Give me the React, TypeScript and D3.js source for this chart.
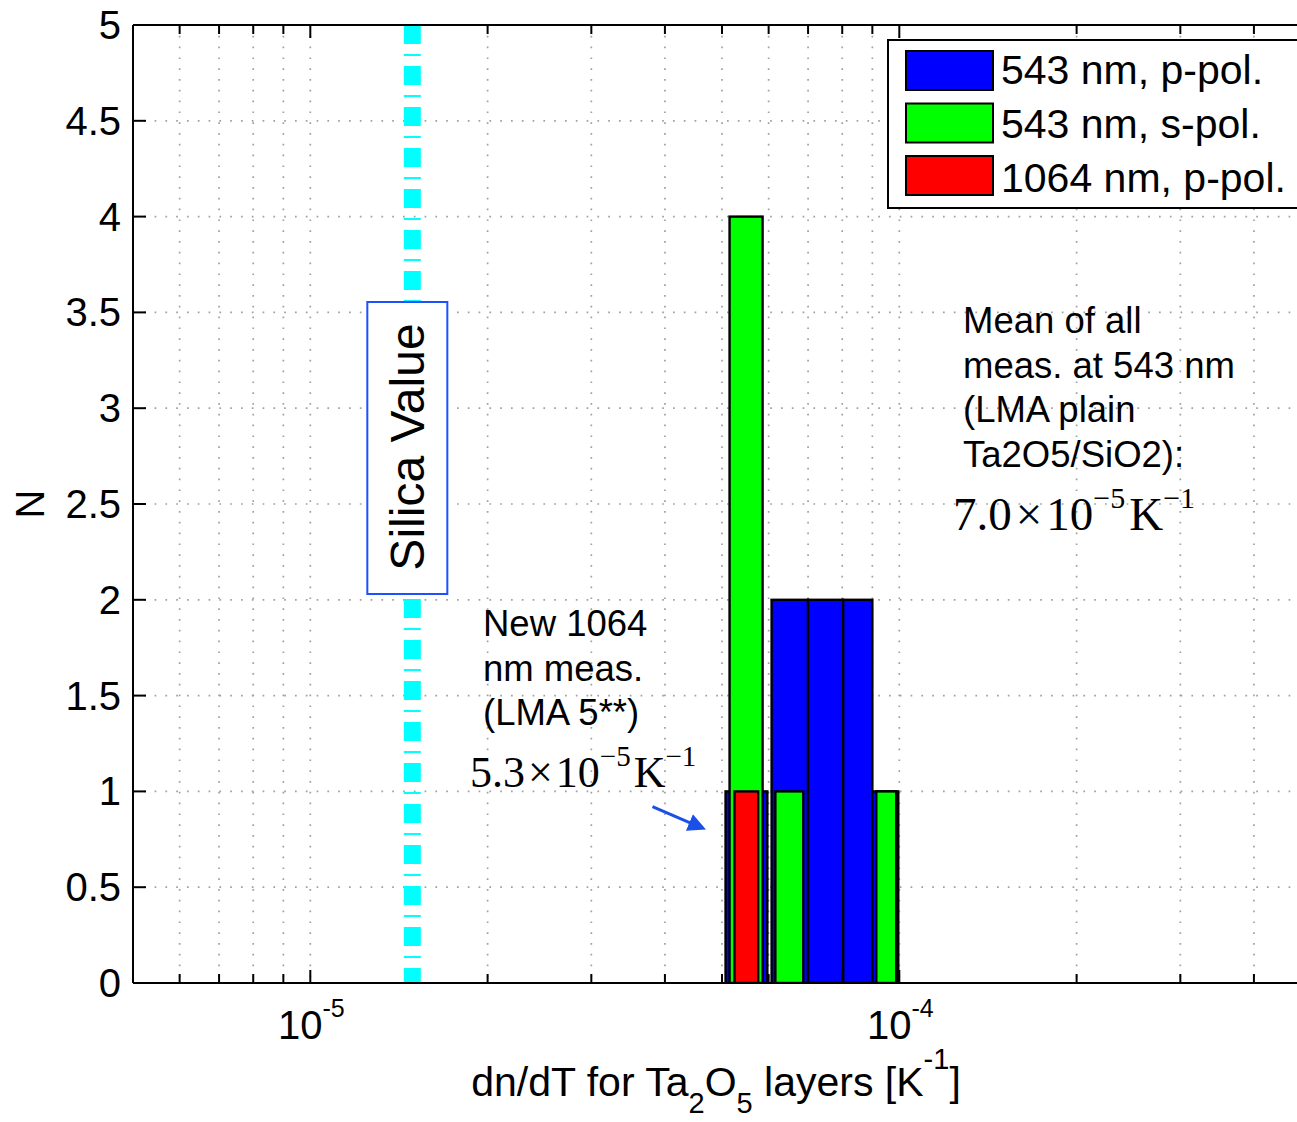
import React from "react";
import * as d3 from "d3";

// ---- data ----
const bluePLeft = [5.07e-5, 6.07e-5, 7.0e-5, 8.03e-5, 9.0e-5];
const bluePRight = [5.97e-5, 7.0e-5, 8.03e-5, 9.0e-5, 9.96e-5];
const bluePCounts = [1, 2, 2, 2, 1];

const greenSLeft = [5.15e-5, 6.16e-5, 9.14e-5];
const greenSRight = [5.86e-5, 6.87e-5, 9.88e-5];
const greenSCounts = [4, 1, 1];

const red1064Left = [5.25e-5];
const red1064Right = [5.76e-5];
const red1064Counts = [1];

const seriesNames = ["543 nm, p-pol.", "543 nm, s-pol.", "1064 nm, p-pol."];
const seriesColors = ["#0000ff", "#00ff00", "#ff0000"];

const silicaValue = 1.49e-5;
const xDomain = [5e-6, 5e-4];
const yDomain = [0, 5];
const yTicks = [0, 0.5, 1, 1.5, 2, 2.5, 3, 3.5, 4, 4.5, 5];
const xMajorTicks = [1e-5, 1e-4];
const xMajorExponents = ["-5", "-4"];

const arrowStart = [3.81e-5, 0.92];
const arrowEnd = [4.62e-5, 0.81];

const meanLines = ["Mean of all", "meas. at 543 nm", "(LMA plain", "Ta2O5/SiO2):"];
const newLines = ["New 1064", "nm meas.", "(LMA 5**)"];

const SANS = "'Liberation Sans', Arial, Helvetica, sans-serif";
const SERIF = "'Liberation Serif', 'Times New Roman', Times, serif";

export default function App() {
  const W = 1297, H = 1122;
  const left = 133, right = 1311, top = 25, bottom = 983;
  const x = d3.scaleLog().domain(xDomain).range([left, right]);
  const y = d3.scaleLinear().domain(yDomain).range([bottom, top]);

  const allTicks = x.ticks().filter((t) => t > xDomain[0] * 1.0001 && t < xDomain[1] * 0.9999);
  const isMajor = (t: number) => Math.abs(Math.log10(t) - Math.round(Math.log10(t))) < 1e-6;

  const series = [
    { l: bluePLeft, r: bluePRight, c: bluePCounts, color: seriesColors[0] },
    { l: greenSLeft, r: greenSRight, c: greenSCounts, color: seriesColors[1] },
    { l: red1064Left, r: red1064Right, c: red1064Counts, color: seriesColors[2] },
  ];

  const gridStyle = { stroke: "#a0a0a0", strokeWidth: 1.7, strokeDasharray: "1.7 9.1" };
  const sx = x(silicaValue);

  return (
    <svg width={W} height={H} style={{ position: "absolute", left: 0, top: 0, background: "#fff" }}>
      <defs>
        <clipPath id="plotclip">
          <rect x={left} y={top} width={right - left} height={bottom - top} />
        </clipPath>
        <marker id="arrowhead" markerWidth="6" markerHeight="6" refX="4.5" refY="3" orient="auto" markerUnits="strokeWidth">
          <path d="M0,0 L6,3 L0,6 Z" fill="#1a4fe8" />
        </marker>
      </defs>
      <rect x={0} y={0} width={W} height={H} fill="#fff" />

      {/* grid */}
      <g>
        {allTicks.map((t, i) => (
          <line key={"gx" + i} x1={x(t)} x2={x(t)} y1={top} y2={bottom} {...gridStyle} />
        ))}
        {yTicks.filter((t) => t > 0 && t < 5).map((t, i) => (
          <line key={"gy" + i} x1={left} x2={right} y1={y(t)} y2={y(t)} {...gridStyle} />
        ))}
      </g>

      {/* bars */}
      <g clipPath="url(#plotclip)">
        {series.map((s, si) =>
          s.c.map((cnt, i) => (
            <rect
              key={"b" + si + "-" + i}
              x={x(s.l[i])}
              y={y(cnt)}
              width={x(s.r[i]) - x(s.l[i])}
              height={y(0) - y(cnt)}
              fill={s.color}
              stroke="#000"
              strokeWidth={2.4}
            />
          ))
        )}
      </g>

      {/* silica line */}
      <line x1={sx} x2={sx} y1={top} y2={bottom} stroke="#00ffff" strokeWidth={17} strokeDasharray="19 10 2 10" />
      <rect x={sx - 45} y={302} width={80} height={292} fill="#fff" stroke="#1e50ff" strokeWidth={2} />
      <text
        transform={`translate(${sx - 5},447) rotate(-90)`}
        textAnchor="middle"
        dominantBaseline="central"
        fontFamily={SANS}
        fontSize={48}
        fill="#000"
      >
        Silica Value
      </text>

      {/* axes box */}
      <g stroke="#000" strokeWidth={2} fill="none">
        <line x1={left} x2={right} y1={bottom} y2={bottom} />
        <line x1={left} x2={right} y1={top} y2={top} />
        <line x1={left} x2={left} y1={top} y2={bottom} />
      </g>
      {/* x ticks */}
      <g stroke="#000" strokeWidth={2}>
        {allTicks.map((t, i) => {
          const len = isMajor(t) ? 13 : 9;
          return (
            <g key={"tx" + i}>
              <line x1={x(t)} x2={x(t)} y1={bottom} y2={bottom - len} />
              <line x1={x(t)} x2={x(t)} y1={top} y2={top + len} />
            </g>
          );
        })}
        {yTicks.map((t, i) => (
          <line key={"ty" + i} x1={left} x2={left + 13} y1={y(t)} y2={y(t)} />
        ))}
      </g>
      {/* y tick labels */}
      <g fontFamily={SANS} fontSize={40} fill="#000">
        {yTicks.map((t, i) => (
          <text key={"yl" + i} x={left - 12} y={y(t)} textAnchor="end" dominantBaseline="central">
            {String(t)}
          </text>
        ))}
      </g>
      {/* x tick labels */}
      <g fontFamily={SANS} fill="#000">
        {xMajorTicks.map((t, i) => (
          <text key={"xl" + i} x={x(t) + 1} y={1039} textAnchor="middle" fontSize={40}>
            10
            <tspan fontSize={25} dy={-22}>{xMajorExponents[i]}</tspan>
          </text>
        ))}
      </g>

      {/* axis labels */}
      <text x={(left + right) / 2 - 6} y={1096} textAnchor="middle" fontFamily={SANS} fontSize={41} fill="#000">
        dn/dT for Ta
        <tspan fontSize={29} dy={17}>2</tspan>
        <tspan dy={-17}>O</tspan>
        <tspan fontSize={29} dy={17}>5</tspan>
        <tspan dy={-17}> layers [K</tspan>
        <tspan fontSize={29} dy={-27}>-1</tspan>
        <tspan dy={27}>]</tspan>
      </text>
      <text transform={`translate(44,${(top + bottom) / 2}) rotate(-90)`} textAnchor="middle" fontFamily={SANS} fontSize={40} fill="#000">
        N
      </text>

      {/* legend */}
      <g>
        <rect x={888} y={40} width={420} height={168} fill="#fff" stroke="#000" strokeWidth={2} />
        {seriesNames.map((n, i) => (
          <g key={"lg" + i}>
            <rect x={906} y={51 + i * 52.5} width={87} height={39} fill={seriesColors[i]} stroke="#000" strokeWidth={2} />
            <text x={1001} y={84 + i * 54} fontFamily={SANS} fontSize={41} fill="#000">
              {n}
            </text>
          </g>
        ))}
      </g>

      {/* annotations */}
      <g fontFamily={SANS} fontSize={36.5} fill="#000">
        {meanLines.map((l, i) => (
          <text key={"m" + i} x={963} y={333 + i * 44.5}>{l}</text>
        ))}
        {newLines.map((l, i) => (
          <text key={"n" + i} x={483} y={636 + i * 44.5}>{l}</text>
        ))}
      </g>
      <text x={953} y={530} fontFamily={SERIF} fontSize={47} fill="#000">
        7.0
        <tspan dx={4}>×</tspan>
        <tspan dx={4}>10</tspan>
        <tspan fontSize={30} dy={-22}>−5</tspan>
        <tspan dx={4} dy={22}>K</tspan>
        <tspan fontSize={30} dy={-22}>−1</tspan>
      </text>
      <text x={470} y={787} fontFamily={SERIF} fontSize={44} fill="#000">
        5.3
        <tspan dx={3}>×</tspan>
        <tspan dx={3}>10</tspan>
        <tspan fontSize={29} dy={-21}>−5</tspan>
        <tspan dx={3} dy={21}>K</tspan>
        <tspan fontSize={29} dy={-21}>−1</tspan>
      </text>
      <line
        x1={x(arrowStart[0])}
        y1={y(arrowStart[1])}
        x2={x(arrowEnd[0])}
        y2={y(arrowEnd[1])}
        stroke="#1a4fe8"
        strokeWidth={3}
        markerEnd="url(#arrowhead)"
      />
    </svg>
  );
}
